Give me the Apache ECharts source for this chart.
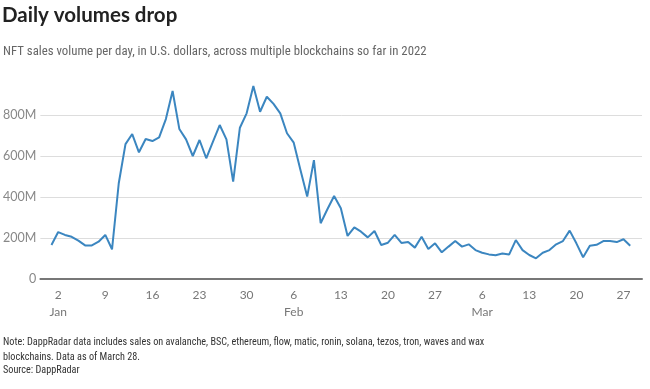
<!DOCTYPE html>
<html>
<head>
<meta charset="utf-8">
<script src="https://cdn.jsdelivr.net/npm/echarts@6/dist/echarts.min.js"></script>
<style>
html,body{margin:0;padding:0;background:#fff;}
#chart{width:650px;height:389px;}
</style>
</head>
<body>
<div id="chart"></div>
<script>
// Daily NFT sales volume (millions USD), one value per day from Jan 1 to Mar 28, 2022
const janValues = [166, 229, 215, 206, 187, 164, 164, 182, 215, 145, 467, 658, 707, 618, 683, 673, 691, 780, 917, 732, 681, 600, 678, 589, 670, 751, 681, 475, 738, 808, 941];
const febValues = [816, 889, 854, 808, 711, 665, 532, 402, 580, 272, 340, 405, 345, 210, 252, 231, 203, 234, 166, 177, 215, 176, 181, 153, 206, 146, 174, 130];
const marValues = [158, 185, 158, 169, 141, 128, 120, 116, 124, 119, 190, 141, 117, 101, 128, 141, 169, 185, 236, 174, 106, 162, 167, 185, 185, 180, 194, 162];

// x tick positions (day index, Jan 1 = 0) and their labels
const tickDays = [1, 8, 15, 22, 29, 36, 43, 50, 57, 64, 71, 78, 85];
const tickLabels = ['2\nJan', '9', '16', '23', '30', '6\nFeb', '13', '20', '27', '6\nMar', '13', '20', '27'];

const values = janValues.concat(febValues, marValues);
const seriesData = values.map((v, i) => [i, v]);

const chart = echarts.init(document.getElementById('chart'), null, {renderer: 'canvas'});
const FONT = 'Lato';
const COND = '"Roboto Condensed", Lato, sans-serif';
chart.setOption({
  animation: false,
  backgroundColor: '#fff',
  title: [
    {
      text: 'Daily volumes drop',
      left: 2, top: 5, padding: 0,
      textStyle: {fontFamily: FONT, fontWeight: 'bold', fontSize: 20.5, color: '#222'}
    },
    {
      text: 'NFT sales volume per day, in U.S. dollars, across multiple blockchains so far in 2022',
      left: 3, top: 45, padding: 0,
      textStyle: {fontFamily: COND, fontWeight: 'normal', fontSize: 12.8, color: '#666'}
    },
    {
      text: 'Note: DappRadar data includes sales on avalanche, BSC, ethereum, flow, matic, ronin, solana, tezos, tron, waves and wax\nblockchains. Data as of March 28.',
      left: 3, top: 335, padding: 0,
      textStyle: {fontFamily: COND, fontWeight: 'normal', fontSize: 10.2, color: '#333', lineHeight: 15}
    },
    {
      text: 'Source: DappRadar',
      left: 3, top: 365, padding: 0,
      textStyle: {fontFamily: COND, fontWeight: 'normal', fontSize: 10.2, color: '#333'}
    }
  ],
  grid: {left: 37, right: 8, top: 74, bottom: 110, containLabel: false},
  xAxis: {
    type: 'value',
    min: -1.65,
    max: 87.75,
    splitLine: {show: false},
    axisTick: {show: false},
    axisLine: {show: true, onZero: false, lineStyle: {color: '#777', width: 2}},
    axisLabel: {
      customValues: tickDays,
      formatter: function (v) {
        const i = tickDays.indexOf(Math.round(v));
        return i >= 0 ? tickLabels[i] : '';
      },
      fontFamily: FONT, fontSize: 12, color: '#777', margin: 8, lineHeight: 17
    }
  },
  yAxis: {
    type: 'value',
    min: 0,
    max: 1000,
    interval: 200,
    axisLine: {show: false},
    axisTick: {show: false},
    splitLine: {show: true, showMaxLine: false, lineStyle: {color: '#ddd', width: 1}},
    axisLabel: {
      showMaxLabel: false,
      formatter: function (v) { return v === 0 ? '0' : v + 'M'; },
      fontFamily: FONT, fontSize: 12.5, color: '#888', margin: 4
    }
  },
  series: [{
    type: 'line',
    data: seriesData,
    showSymbol: false,
    symbol: 'none',
    lineStyle: {color: '#3b86c0', width: 2},
    z: 3
  }]
});
</script>
</body>
</html>
